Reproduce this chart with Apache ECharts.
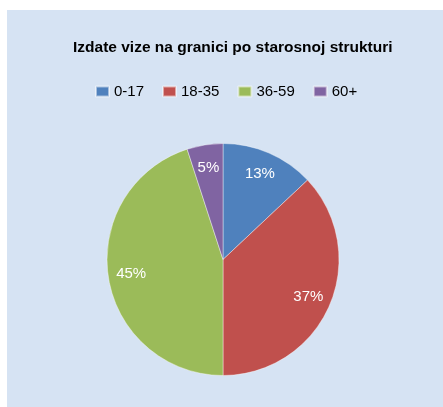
<!DOCTYPE html>
<html>
<head>
<meta charset="utf-8">
<script src="https://cdn.jsdelivr.net/npm/echarts@6/dist/echarts.min.js"></script>
<style>
  html, body { margin: 0; padding: 0; background: #fff; }
  #chart { position: absolute; left: 7px; top: 10px; width: 436px; height: 397px; background: #d6e3f3; }
</style>
</head>
<body>
<div id="chart"></div>
<script>
// podaci
const categories = ['0-17', '18-35', '36-59', '60+'];
const values = [13, 37, 45, 5];
const colors = ['#4f81bd', '#c0504d', '#9bbb59', '#8064a2'];

const pieData = categories.map((name, i) => ({ name: name, value: values[i] }));

const myChart = echarts.init(document.getElementById('chart'));
const option = {
  backgroundColor: 'transparent',
  color: colors,
  title: {
    text: 'Izdate vize na granici po starosnoj strukturi',
    left: 61,
    top: 25,
    textStyle: { fontFamily: 'Liberation Sans', fontWeight: 'bold', fontSize: 15.5, color: '#000' }
  },
  legend: {
    data: categories,
    left: 83,
    top: 69,
    itemWidth: 13,
    itemHeight: 10,
    itemGap: 18,
    icon: 'rect',
    textStyle: { fontFamily: 'Liberation Sans', fontSize: 15, color: '#000' }
  },
  series: [
    {
      name: 'vize',
      type: 'pie',
      center: [216, 249.5],
      radius: [0, 116],
      startAngle: 90,
      clockwise: true,
      silent: true,
      label: { show: false },
      labelLine: { show: false },
      itemStyle: { borderColor: 'rgba(255,255,255,0.5)', borderWidth: 0.8 },
      data: pieData
    },
    {
      // samo za pozicije oznaka
      name: 'oznake',
      type: 'pie',
      center: [216, 249.5],
      radius: [64, 116],
      startAngle: 90,
      clockwise: true,
      silent: true,
      itemStyle: { color: 'transparent' },
      label: {
        show: true,
        position: 'inside',
        formatter: '{c}%',
        color: '#fff',
        fontFamily: 'Liberation Sans',
        fontSize: 15
      },
      labelLine: { show: false },
      data: pieData
    }
  ]
};
myChart.setOption(option);
</script>
</body>
</html>
